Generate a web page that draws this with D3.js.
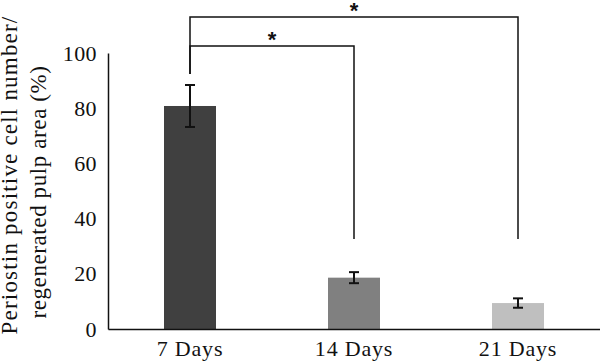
<!DOCTYPE html>
<html>
<head>
<meta charset="utf-8">
<script src="https://cdn.jsdelivr.net/npm/d3@7"></script>
<style>
body { margin: 0; background: #fff; }
</style>
</head>
<body>
<div id="chart"></div>
<script>
var categories = ["7 Days", "14 Days", "21 Days"];
var values = [80.8, 18.6, 9.4];
var errors = [7.6, 2.0, 1.7];
var barColors = ["#404040", "#808080", "#bfbfbf"];
var yTicks = [0, 20, 40, 60, 80, 100];
// significance brackets: from, to, bar height, left foot, right foot
var brackets = [
	{ from: "7 Days", to: "21 Days", level: 113, leftEnd: 92.4, rightEnd: 32.6 },
	{ from: "7 Days", to: "14 Days", level: 102.5, leftEnd: 92.4, rightEnd: 32.6 }
];

var serif = '"Liberation Serif", "Times New Roman", serif';
var width = 600, height = 363;
var margin = { left: 108, bottom: 34 };

var svg = d3.select('#chart')
	.append('svg')
	.attr('width', width)
	.attr('height', height);

var x = d3.scaleBand()
	.domain(categories)
	.range([margin.left, width])
	.paddingInner(0.683)
	.paddingOuter(0.3415);

var y = d3.scaleLinear()
	.domain([0, 100])
	.range([329, 53]);

// bars
svg.selectAll('.bar')
	.data(values)
	.enter()
	.append('rect')
	.attr('class', 'bar')
	.attr('x', function(d, i) { return x(categories[i]); })
	.attr('y', function(d) { return y(d); })
	.attr('width', x.bandwidth())
	.attr('height', function(d) { return y(0) - y(d); })
	.attr('fill', function(d, i) { return barColors[i]; });

// error bars
var eb = svg.selectAll('.err')
	.data(values)
	.enter()
	.append('g')
	.attr('class', 'err')
	.attr('stroke', '#111')
	.attr('stroke-width', 2);

eb.append('line')
	.attr('x1', function(d, i) { return x(categories[i]) + x.bandwidth() / 2; })
	.attr('x2', function(d, i) { return x(categories[i]) + x.bandwidth() / 2; })
	.attr('y1', function(d, i) { return y(d + errors[i]); })
	.attr('y2', function(d, i) { return y(d - errors[i]); });

[1, -1].forEach(function(s) {
	eb.append('line')
		.attr('x1', function(d, i) { return x(categories[i]) + x.bandwidth() / 2 - 5; })
		.attr('x2', function(d, i) { return x(categories[i]) + x.bandwidth() / 2 + 5; })
		.attr('y1', function(d, i) { return y(d + s * errors[i]); })
		.attr('y2', function(d, i) { return y(d + s * errors[i]); });
});

// axes
var yAxis = svg.append('g')
	.attr('transform', 'translate(' + margin.left + ',0)')
	.call(d3.axisLeft(y).tickValues(yTicks).tickSize(0).tickPadding(11));
yAxis.select('.domain').attr('stroke', '#111').attr('stroke-width', 1.5);
yAxis.selectAll('text')
	.style('font-family', serif)
	.style('font-size', '22px')
	.style('letter-spacing', '0.4px')
	.attr('fill', '#111');

var xAxis = svg.append('g')
	.attr('transform', 'translate(0,' + y(0) + ')')
	.call(d3.axisBottom(x).tickSize(0).tickPadding(11));
xAxis.select('.domain').attr('stroke', '#111').attr('stroke-width', 1.5);
xAxis.selectAll('text')
	.style('font-family', serif)
	.style('font-size', '22px')
	.style('letter-spacing', '0.8px')
	.attr('fill', '#111');

// y title
svg.append('text')
	.attr('transform', 'translate(17,175) rotate(-90)')
	.attr('text-anchor', 'middle')
	.style('font-family', serif)
	.style('font-size', '23px')
	.style('letter-spacing', '1.2px')
	.attr('fill', '#111')
	.text('Periostin positive cell number/');
svg.append('text')
	.attr('transform', 'translate(46,192) rotate(-90)')
	.attr('text-anchor', 'middle')
	.style('font-family', serif)
	.style('font-size', '23px')
	.style('letter-spacing', '0.6px')
	.attr('fill', '#111')
	.text('regenerated pulp area (%)');

// significance brackets
brackets.forEach(function(b) {
	var x1 = x(b.from) + x.bandwidth() / 2;
	var x2 = x(b.to) + x.bandwidth() / 2;
	svg.append('path')
		.attr('d', d3.line()([[x1, y(b.leftEnd)], [x1, y(b.level)], [x2, y(b.level)], [x2, y(b.rightEnd)]]))
		.attr('fill', 'none')
		.attr('stroke', '#111')
		.attr('stroke-width', 1.5);
	svg.append('text')
		.attr('x', (x1 + x2) / 2)
		.attr('y', y(b.level) + 1)
		.attr('text-anchor', 'middle')
		.style('font-size', '22px')
		.style('font-weight', 'bold')
		.style('font-family', '"Liberation Sans", Arial, sans-serif')
		.attr('fill', '#111')
		.text('*');
});
</script>
</body>
</html>
